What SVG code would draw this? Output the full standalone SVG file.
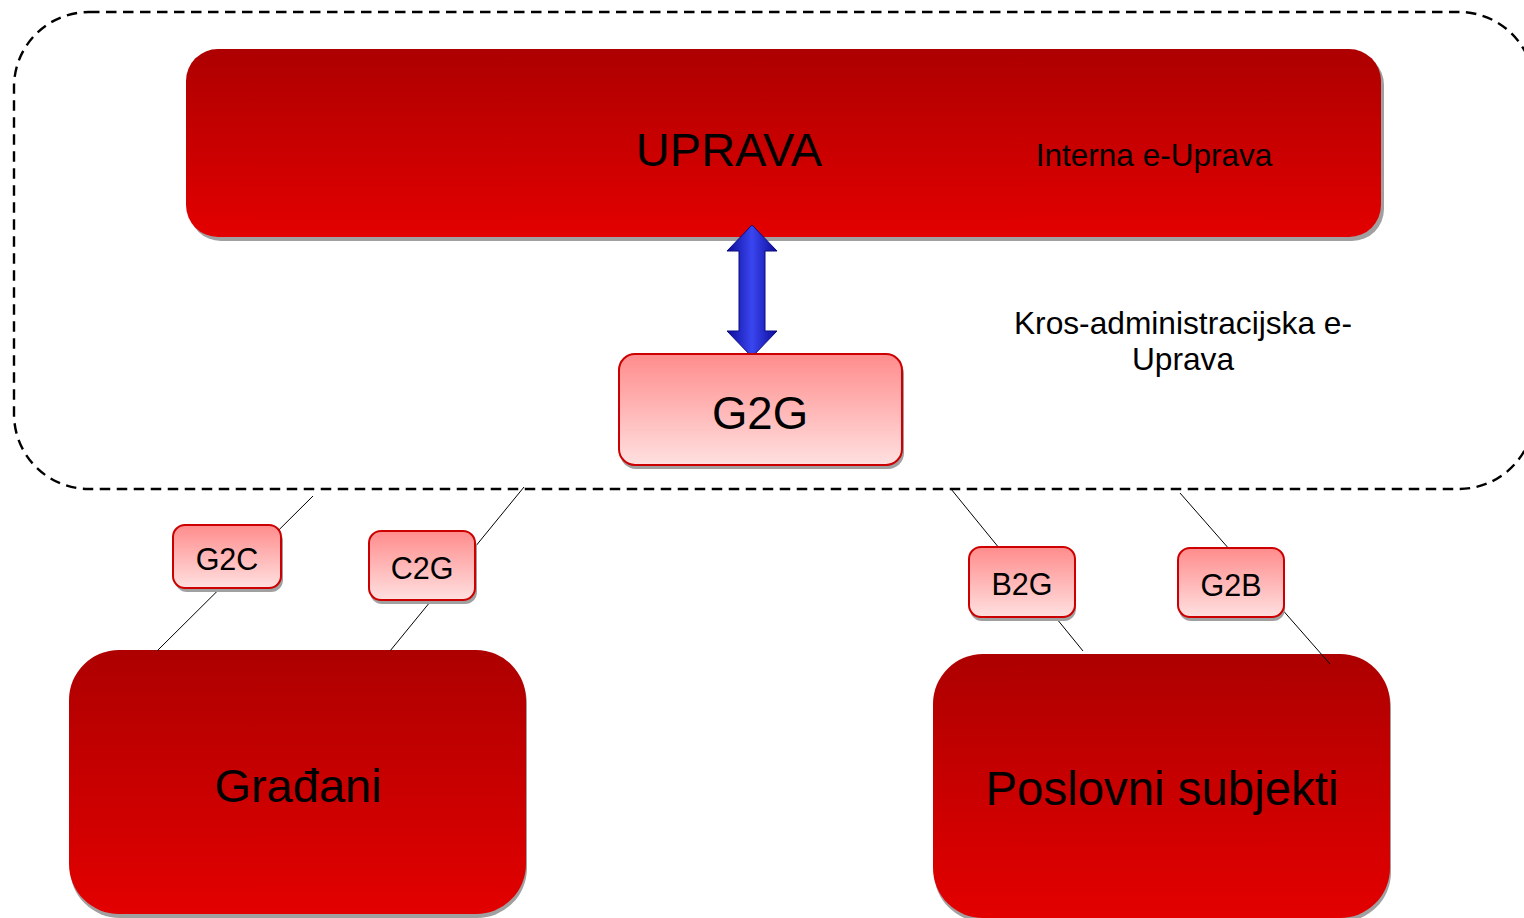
<svg xmlns="http://www.w3.org/2000/svg" width="1524" height="918" viewBox="0 0 1524 918">
<defs>
<linearGradient id="bigRed" x1="0" y1="0" x2="0" y2="1">
<stop offset="0" stop-color="#ad0000"/>
<stop offset="1" stop-color="#e30000"/>
</linearGradient>
<linearGradient id="pink" x1="0" y1="0" x2="0" y2="1">
<stop offset="0" stop-color="#ff8c8c"/>
<stop offset="1" stop-color="#ffe0e0"/>
</linearGradient>
<linearGradient id="blue" x1="0" y1="0" x2="1" y2="0">
<stop offset="0" stop-color="#0c0c9a"/>
<stop offset="0.5" stop-color="#3a46f0"/>
<stop offset="1" stop-color="#0c0c9a"/>
</linearGradient>
</defs>
<style>
.big{fill:url(#bigRed);}
.shadow{fill:#a0a0a0;}
.small{fill:url(#pink);stroke:#cc0000;stroke-width:2;}
.conn{stroke:#000;stroke-width:1;fill:none;}
.t{font-family:"Liberation Sans",Arial,sans-serif;fill:#000;text-anchor:middle;}
</style>
<rect id="container" x="14" y="12" width="1520" height="477" rx="75" ry="75" fill="none" stroke="#000" stroke-width="2.4" stroke-dasharray="10.5 6.5"/>
<text class="t" x="1183" y="334" font-size="31.7">Kros-administracijska e-</text>
<text class="t" x="1183" y="370" font-size="31.7">Uprava</text>
<g id="uprava">
<rect class="shadow" x="189" y="53" width="1195" height="188" rx="32"/>
<rect class="big" x="186" y="49" width="1195" height="188" rx="32"/>
<text class="t" x="729" y="166" font-size="47">UPRAVA</text>
<text class="t" x="1154" y="166" font-size="31.5">Interna e-Uprava</text>
</g>
<g id="arrow">
<path d="M752 225 L777 251 L765 251 L765 331 L777 331 L752 357 L727 331 L739 331 L739 251 L727 251 Z" fill="url(#blue)" stroke="#0a0a80" stroke-width="1"/>
</g>
<g id="gradjani">
<rect class="shadow" x="70" y="654" width="457" height="264" rx="50"/>
<rect class="big" x="69" y="650" width="457" height="264" rx="50"/>
<text class="t" x="298" y="802" font-size="47">Građani</text>
</g>
<g id="poslovni">
<rect class="shadow" x="934" y="658" width="457" height="264" rx="50"/>
<rect class="big" x="933" y="654" width="457" height="264" rx="50"/>
<text class="t" x="1162" y="805" font-size="47.4">Poslovni subjekti</text>
</g>
<g id="connectors">
<line class="conn" x1="313" y1="496" x2="157" y2="651"/>
<line class="conn" x1="524" y1="487" x2="390" y2="651"/>
<line class="conn" x1="951" y1="489" x2="1083" y2="651"/>
<line class="conn" x1="1180" y1="493" x2="1330" y2="664"/>
</g>
<g id="g2g">
<rect class="shadow" x="620" y="358" width="284" height="111" rx="16"/>
<rect class="small" x="619" y="354" width="283" height="111" rx="16"/>
<text class="t" x="760" y="429" font-size="45.5">G2G</text>
</g>
<g id="g2c">
<rect class="shadow" x="175" y="529" width="108" height="63" rx="12"/>
<rect class="small" x="173" y="525" width="108" height="63" rx="12"/>
<text class="t" x="227" y="570" font-size="30.5">G2C</text>
</g>
<g id="c2g">
<rect class="shadow" x="370" y="535" width="107" height="69" rx="12"/>
<rect class="small" x="369" y="531" width="106" height="69" rx="12"/>
<text class="t" x="422" y="579" font-size="30.5">C2G</text>
</g>
<g id="b2g">
<rect class="shadow" x="970" y="551" width="106" height="70" rx="12"/>
<rect class="small" x="969" y="547" width="106" height="70" rx="12"/>
<text class="t" x="1022" y="595" font-size="30.5">B2G</text>
</g>
<g id="g2b">
<rect class="shadow" x="1179" y="552" width="106" height="69" rx="12"/>
<rect class="small" x="1178" y="548" width="106" height="69" rx="12"/>
<text class="t" x="1231" y="596" font-size="30.5">G2B</text>
</g>
</svg>
